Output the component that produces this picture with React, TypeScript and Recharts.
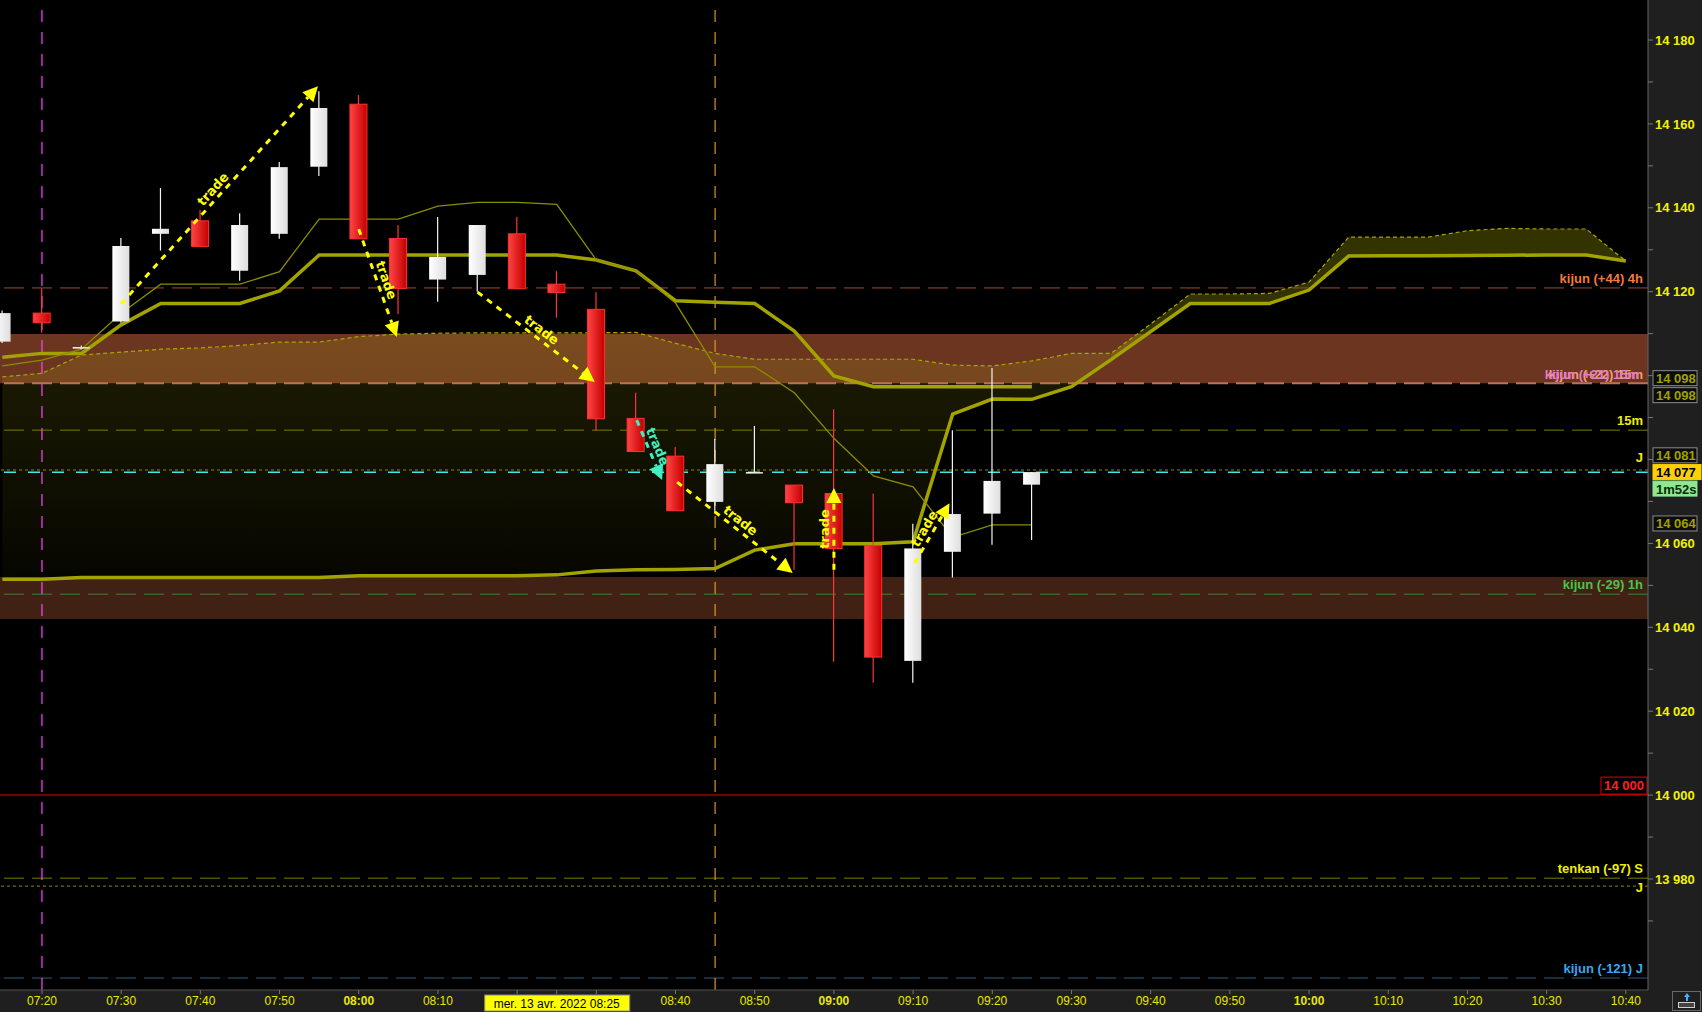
import React from 'react';
import {
  ComposedChart,
  Bar,
  Line,
  Area,
  XAxis,
  YAxis,
  ReferenceLine,
  ReferenceArea,
  ReferenceDot,
} from 'recharts';

const W = 1702;
const H = 1012;
const FONT = '"Liberation Sans", Arial, sans-serif';

// minutes after 07:00, one candle every 5 minutes
const candleTimes = [15, 20, 25, 30, 35, 40, 45, 50, 55, 60, 65, 70, 75, 80, 85, 90, 95, 100, 105, 110, 115, 120, 125, 130, 135, 140, 145];
const opens = [14108.1, 14114.9, 14106.8, 14112.9, 14133.8, 14136.9, 14125.0, 14133.8, 14149.8, 14164.7, 14132.7, 14122.9, 14124.0, 14133.8, 14121.8, 14115.8, 14089.8, 14080.8, 14069.9, 14077.0, 14073.9, 14071.9, 14059.5, 14032.0, 14058.0, 14067.1, 14074.0];
const highs = [14115.5, 14120.8, 14107.2, 14132.8, 14144.7, 14139.5, 14138.7, 14150.9, 14167.8, 14166.9, 14135.9, 14137.8, 14135.9, 14137.8, 14124.9, 14119.9, 14095.9, 14083.0, 14084.9, 14088.0, 14073.9, 14092.0, 14071.9, 14064.7, 14087.0, 14101.8, 14077.0];
const lows = [14107.8, 14110.2, 14106.3, 14112.6, 14129.8, 14130.8, 14122.6, 14132.6, 14147.6, 14132.6, 14114.7, 14117.6, 14120.0, 14120.7, 14113.8, 14086.9, 14081.9, 14067.8, 14067.2, 14077.0, 14053.7, 14031.8, 14026.8, 14026.8, 14051.9, 14059.7, 14060.8];
const closes = [14114.9, 14112.6, 14106.8, 14130.9, 14135.0, 14130.8, 14135.9, 14149.7, 14163.8, 14132.6, 14120.8, 14128.3, 14135.9, 14120.7, 14119.8, 14089.7, 14081.9, 14067.8, 14078.9, 14077.0, 14069.7, 14058.8, 14032.9, 14058.8, 14067.0, 14074.9, 14077.0];

const kijun = [14104.4, 14105.3, 14105.3, 14112.1, 14117.2, 14117.2, 14117.2, 14120.2, 14128.75, 14128.75, 14128.75, 14128.75, 14128.75, 14128.75, 14128.75, 14127.55, 14125.0, 14117.85, 14117.5, 14117.2, 14110.6, 14099.9, 14097.35, 14097.35, 14097.35, 14097.35, 14097.35];
const tenkan = [14102.3, 14103.7, 14106.3, 14114.85, 14121.8, 14121.8, 14121.8, 14124.8, 14137.3, 14137.3, 14137.3, 14140.4, 14141.3, 14141.3, 14140.8, 14127.55, 14125.0, 14117.3, 14102.1, 14102.1, 14095.9, 14085.05, 14076.1, 14073.5, 14061.45, 14064.4, 14064.4];

// cloud runs 26 periods further than the candles
const cloudTimes = [15, 20, 25, 30, 35, 40, 45, 50, 55, 60, 65, 70, 75, 80, 85, 90, 95, 100, 105, 110, 115, 120, 125, 130, 135, 140, 145, 150, 155, 160, 165, 170, 175, 180, 185, 190, 195, 200, 205, 210, 215, 220];
const spanA = [14099.7, 14100.55, 14104.9, 14105.6, 14106.3, 14106.6, 14107.2, 14108.0, 14108.0, 14109.3, 14109.9, 14110.1, 14110.2, 14110.2, 14110.2, 14110.2, 14110.3, 14107.7, 14105.3, 14103.9, 14103.9, 14103.9, 14103.9, 14103.9, 14102.5, 14102.3, 14103.5, 14105.3, 14105.3, 14112.3, 14119.45, 14119.45, 14119.6, 14122.3, 14133.0, 14133.0, 14133.0, 14134.55, 14135.1, 14134.95, 14134.95, 14127.3];
const spanB = [14051.45, 14051.45, 14051.9, 14051.9, 14051.9, 14051.9, 14051.9, 14051.9, 14051.9, 14052.3, 14052.3, 14052.3, 14052.3, 14052.3, 14052.5, 14053.4, 14053.7, 14053.8, 14054.0, 14058.4, 14059.9, 14059.9, 14059.9, 14060.4, 14090.85, 14094.4, 14094.35, 14097.35, 14103.8, 14110.5, 14117.2, 14117.2, 14117.2, 14120.4, 14128.5, 14128.6, 14128.6, 14128.65, 14128.7, 14128.75, 14128.75, 14127.3];
const cloudSplit = 155;

const timeTicks = [20, 30, 40, 50, 60, 70, 80, 85, 90, 100, 110, 120, 130, 140, 150, 160, 170, 180, 190, 200, 210, 220];
const hiddenTimeTicks = [80, 90];
const dateTick = 85;
const dateLabel = 'mer. 13 avr. 2022 08:25';
const priceTicks = [13970, 13980, 13990, 14000, 14010, 14020, 14030, 14040, 14050, 14060, 14070, 14080, 14090, 14100, 14110, 14120, 14130, 14140, 14150, 14160, 14170, 14180];
// these two labels sit under the price boxes
const hiddenPriceLabels = [14080, 14100];

const bandUpper = [14098.2, 14109.9];
const bandLower = [14042.0, 14052.0];

const levelPrices = [14120.9, 14098.2, 14087.0, 14077.5, 14076.95, 14047.9, 14000, 13980.2, 13978.3, 13956.4];
const levelLabels = ['kijun (+44) 4h', 'kijun (+21) 15m', '15m', 'J', '', 'kijun (-29) 1h', '14 000', 'tenkan (-97) S', 'J', 'kijun (-121) J'];
const ghostLabel = 'kijun (+22) 15m';
const levelStroke = ['#a04a2a', '#c0705a', '#7c7c00', '#8a8a00', '#40e4f4', '#3c8232', '#9c0000', '#7c7c00', '#8a8a00', '#2e5a7c'];
const levelDash = ['20 8', '20 8', '20 8', '3 3', '12 12', '20 8', undefined, '20 8', '3 3', '20 8'];
const levelWidth = [1, 2, 1, 1, 1.5, 1, 1.5, 1, 1, 1];
const levelText = ['#f27a3c', '#e87ad0', '#eeee00', '#eeee00', '', '#4cc24c', '#ff2020', '#eeee00', '#eeee00', '#3aa8f0'];
const levelLabelDy = [-4.5, -4, -5, -8, 0, -5, 0, -5, 6, -5];

const markerTimes = [20, 105];
const markerColors = ['#ff44ff', '#d89a20'];

const tradeFrom = [[30, 14117.1], [60, 14134.9], [75, 14119.9], [95.1, 14089.4], [100.2, 14074.6], [120, 14053.7], [130.2, 14055.3]];
const tradeTo = [[54.85, 14169.0], [64.8, 14109.2], [89.8, 14098.5], [98.3, 14075.1], [114.8, 14052.95], [120, 14073.2], [134.6, 14069.6]];
const tradeColors = ['#ffff00', '#ffff00', '#ffff00', '#40f0c0', '#ffff00', '#ffff00', '#ffff00'];

const boxPrices = [14098.2, 14098.2, 14081, 14077, 14077, 14064.4];
const boxTexts = ['14 098', '14 098', '14 081', '14 077', '1m52s', '14 064'];
const boxDy = [-5, 12, 0, 0, 16.5, -1.5];
const boxBg = ['#0c0c0c', '#0c0c0c', '#0c0c0c', '#ffd000', '#8ee88e', '#0c0c0c'];
const boxFg = ['#a0a000', '#a0a000', '#a0a000', '#000000', '#0a2a0a', '#a0a000'];
const boxBorder = ['#8a8a8a', '#8a8a8a', '#8a8a8a', '#ffd000', '#8ee88e', '#8a8a8a'];

const rows = cloudTimes.map((t, i) => {
  const c = candleTimes.indexOf(t);
  return {
    t,
    o: c >= 0 ? opens[c] : null,
    h: c >= 0 ? highs[c] : null,
    l: c >= 0 ? lows[c] : null,
    c: c >= 0 ? closes[c] : null,
    range: c >= 0 ? [lows[c], highs[c]] : null,
    kijun: c >= 0 ? kijun[c] : null,
    tenkan: c >= 0 ? tenkan[c] : null,
    spanA: spanA[i],
    spanB: spanB[i],
    cloudL: t <= cloudSplit ? [spanB[i], spanA[i]] : null,
    cloudR: t >= cloudSplit ? [spanB[i], spanA[i]] : null,
  };
});

function timeLabel(t: number) {
  const h = 7 + Math.floor(t / 60);
  const m = t % 60;
  return `${String(h).padStart(2, '0')}:${String(m).padStart(2, '0')}`;
}

function priceLabel(v: number) {
  if (v % 20 !== 0 || hiddenPriceLabels.includes(v)) return '';
  return `${Math.floor(v / 1000)} ${String(v % 1000).padStart(3, '0')}`;
}

function TimeTick(props: any) {
  const { x, y, payload } = props;
  const v = payload.value;
  if (v === dateTick) {
    return (
      <g>
        <rect x={x - 72} y={995} width={145} height={16} fill="#ffff00" stroke="#888" />
        <text x={x} y={1007.5} textAnchor="middle" fill="#000" fontSize={12} fontFamily={FONT}>
          {dateLabel}
        </text>
      </g>
    );
  }
  if (hiddenTimeTicks.includes(v)) return <g />;
  return (
    <text
      x={x}
      y={y}
      dy={9}
      textAnchor="middle"
      fill="#e8e800"
      fontSize={12}
      fontWeight={v % 60 === 0 ? 'bold' : 'normal'}
      fontFamily={FONT}
    >
      {timeLabel(v)}
    </text>
  );
}

function Candle(props: any) {
  const { x, y, width, height, payload } = props;
  if (!payload || payload.o == null) return null;
  const top = Math.min(y, y + height);
  const bot = Math.max(y, y + height);
  const { o, h, l, c } = payload;
  const py = (p: number) => top + ((h - p) / (h - l)) * (bot - top);
  const cx = x + width / 2;
  const up = c >= o;
  const bTop = py(Math.max(o, c));
  const bh = Math.max(py(Math.min(o, c)) - bTop, 1.5);
  const bw = 17;
  return (
    <g>
      <line x1={cx} x2={cx} y1={top} y2={bot} stroke={up ? '#f4f4f4' : '#ff3434'} strokeWidth={1.2} />
      <rect
        x={cx - bw / 2}
        y={bTop}
        width={bw}
        height={bh}
        fill={up ? 'url(#gWhite)' : 'url(#gRed)'}
        stroke={up ? 'none' : '#ff3030'}
        strokeWidth={1}
      />
    </g>
  );
}

function tradeShape(color: string) {
  return (props: any) => {
    const { x1, y1, x2, y2 } = props;
    const dx = x2 - x1;
    const dy = y2 - y1;
    const len = Math.hypot(dx, dy) || 1;
    const ux = dx / len;
    const uy = dy / len;
    const hl = 15;
    const hw = 7.5;
    const bx = x2 - ux * hl;
    const by = y2 - uy * hl;
    let a = (Math.atan2(dy, dx) * 180) / Math.PI;
    if (a > 90) a -= 180;
    if (a < -90) a += 180;
    const ar = (a * Math.PI) / 180;
    const mx = (x1 + x2) / 2 + Math.sin(ar) * 9;
    const my = (y1 + y2) / 2 - Math.cos(ar) * 9;
    return (
      <g>
        <line x1={x1} y1={y1} x2={bx} y2={by} stroke={color} strokeWidth={3} strokeDasharray="6 6" />
        <polygon
          points={`${x2},${y2} ${bx - uy * hw},${by + ux * hw} ${bx + uy * hw},${by - ux * hw}`}
          fill={color}
        />
        <text
          x={mx}
          y={my}
          transform={`rotate(${a} ${mx} ${my})`}
          textAnchor="middle"
          dominantBaseline="central"
          fill={color}
          fontSize={13}
          fontWeight="bold"
          fontFamily='"DejaVu Sans", sans-serif'
        >
          trade
        </text>
      </g>
    );
  };
}

function levelLabel(i: number) {
  return (props: any) => {
    const vb = props.viewBox;
    const xr = vb.x + vb.width;
    const text = levelLabels[i];
    if (!text) return null;
    if (i === 6) {
      return (
        <g>
          <rect x={xr - 47} y={vb.y - 18} width={46} height={17} fill="#000" stroke="#e00000" />
          <text x={xr - 24} y={vb.y - 5} textAnchor="middle" fill={levelText[i]} fontSize={13} fontWeight="bold" fontFamily={FONT}>
            {text}
          </text>
        </g>
      );
    }
    return (
      <g>
        {i === 1 && (
          <text x={xr - 5} y={vb.y + levelLabelDy[i]} textAnchor="end" fill="#f0a070" fontSize={13} fontWeight="bold" fontFamily={FONT}>
            {ghostLabel}
          </text>
        )}
        <text x={xr - (i === 1 ? 9 : 5)} y={vb.y + levelLabelDy[i]} textAnchor="end" fill={levelText[i]} fontSize={13} fontWeight="bold" fontFamily={FONT}>
          {text}
        </text>
      </g>
    );
  };
}

function axisBox(i: number) {
  return (props: any) => {
    const { cx, cy } = props;
    const yc = cy + boxDy[i];
    const wide = i === 3;
    return (
      <g>
        <rect x={cx + 5} y={yc - 7.5} width={wide ? 48 : 44} height={15} fill={boxBg[i]} stroke={boxBorder[i]} />
        <text x={cx + 8} y={yc + 5} fill={boxFg[i]} fontSize={13} fontWeight="bold" fontFamily={FONT}>
          {boxTexts[i]}
        </text>
      </g>
    );
  };
}

export default function App() {
  return (
    <div style={{ position: 'fixed', left: 0, top: 0, width: W, height: H, background: '#000', overflow: 'hidden' }}>
      <div style={{ position: 'absolute', left: 1648, top: 0, width: 54, height: H, background: '#1f1f1f' }} />
      <div style={{ position: 'absolute', left: 0, top: 990, width: W, height: 22, background: '#1f1f1f' }} />
      <div
        style={{
          position: 'absolute',
          left: 1672,
          top: 991,
          width: 29,
          height: 20,
          border: '1px solid #666',
          boxSizing: 'border-box',
        }}
      >
        <div style={{ position: 'absolute', left: 11, top: 1, width: 0, height: 0, borderLeft: '3px solid transparent', borderRight: '3px solid transparent', borderBottom: '4px solid #3cb4ff' }} />
        <div style={{ position: 'absolute', left: 13, top: 5, width: 2, height: 4, background: '#3cb4ff' }} />
        <div style={{ position: 'absolute', left: 5, top: 10, width: 17, height: 6, border: '1px solid #cfcfcf', boxSizing: 'border-box', background: '#444' }} />
      </div>
      <div style={{ position: 'absolute', left: 0, top: 0 }}>
        <ComposedChart width={W} height={H} data={rows} margin={{ top: 0, right: 0, bottom: 0, left: 0 }}>
          <defs>
            <linearGradient id="cloudL" x1="0" y1="0" x2="0" y2="1">
              <stop offset="0" stopColor="#c8c814" stopOpacity={0.15} />
              <stop offset="1" stopColor="#c8c814" stopOpacity={0.03} />
            </linearGradient>
            <linearGradient id="gRed" x1="0" y1="0" x2="1" y2="0">
              <stop offset="0" stopColor="#ff4444" />
              <stop offset="1" stopColor="#c40000" />
            </linearGradient>
            <linearGradient id="gWhite" x1="0" y1="0" x2="1" y2="0">
              <stop offset="0" stopColor="#ffffff" />
              <stop offset="1" stopColor="#dedede" />
            </linearGradient>
          </defs>
          <XAxis
            dataKey="t"
            type="number"
            domain={[14.7, 222.8]}
            allowDataOverflow
            ticks={timeTicks}
            interval={0}
            height={22}
            tickSize={4}
            axisLine={{ stroke: '#555' }}
            tickLine={{ stroke: '#777' }}
            tick={(p: any) => <TimeTick {...p} />}
          />
          <YAxis
            orientation="right"
            type="number"
            width={54}
            domain={[13953.54, 14189.54]}
            allowDataOverflow
            ticks={priceTicks}
            interval={0}
            tickSize={5}
            axisLine={{ stroke: '#666' }}
            tickLine={{ stroke: '#777' }}
            tick={{ fill: '#f2f200', fontSize: 13, fontWeight: 'bold', fontFamily: FONT }}
            tickFormatter={priceLabel}
          />

          <ReferenceArea y1={bandUpper[0]} y2={bandUpper[1]} fill="#6b3520" fillOpacity={1} stroke="none" zIndex={10} />
          <ReferenceArea y1={bandLower[0]} y2={bandLower[1]} fill="#412113" fillOpacity={1} stroke="none" zIndex={10} />

          <Area
            dataKey="cloudL"
            type="linear"
            stroke="none"
            fill="url(#cloudL)"
            fillOpacity={1}
            activeDot={false}
            isAnimationActive={false}
            zIndex={20}
          />
          <Area
            dataKey="cloudR"
            type="linear"
            stroke="none"
            fill="#aaaa00"
            fillOpacity={0.3}
            activeDot={false}
            isAnimationActive={false}
            zIndex={20}
          />

          {levelPrices.map((p, i) => (
            <ReferenceLine
              key={`lvl${i}`}
              y={p}
              stroke={levelStroke[i]}
              strokeWidth={levelWidth[i]}
              strokeDasharray={levelDash[i]}
              label={levelLabel(i)}
              zIndex={30}
            />
          ))}
          {markerTimes.map((t, i) => (
            <ReferenceLine key={`mk${i}`} x={t} stroke={markerColors[i]} strokeWidth={1.2} strokeDasharray="12 10" zIndex={30} />
          ))}

          <Line dataKey="spanA" type="linear" stroke="#a8a800" strokeWidth={1.2} strokeDasharray="4 3" dot={false} activeDot={false} isAnimationActive={false} zIndex={40} />
          <Line dataKey="spanB" type="linear" stroke="#a3a300" strokeWidth={3.5} dot={false} activeDot={false} isAnimationActive={false} zIndex={40} />
          <Line dataKey="kijun" type="linear" stroke="#a3a300" strokeWidth={3.5} dot={false} activeDot={false} isAnimationActive={false} zIndex={50} />
          <Line dataKey="tenkan" type="linear" stroke="#8c8c00" strokeWidth={1.3} dot={false} activeDot={false} isAnimationActive={false} zIndex={50} />

          <Bar dataKey="range" barSize={17} shape={(p: any) => <Candle {...p} />} isAnimationActive={false} zIndex={60} />

          {tradeFrom.map((f, i) => (
            <ReferenceLine
              key={`tr${i}`}
              segment={[
                { x: f[0], y: f[1] },
                { x: tradeTo[i][0], y: tradeTo[i][1] },
              ]}
              shape={tradeShape(tradeColors[i])}
              zIndex={70}
            />
          ))}

          {boxPrices.map((p, i) => (
            <ReferenceDot key={`bx${i}`} x={222.8} y={p} r={0} ifOverflow="visible" shape={axisBox(i)} zIndex={80} />
          ))}
        </ComposedChart>
      </div>
    </div>
  );
}
